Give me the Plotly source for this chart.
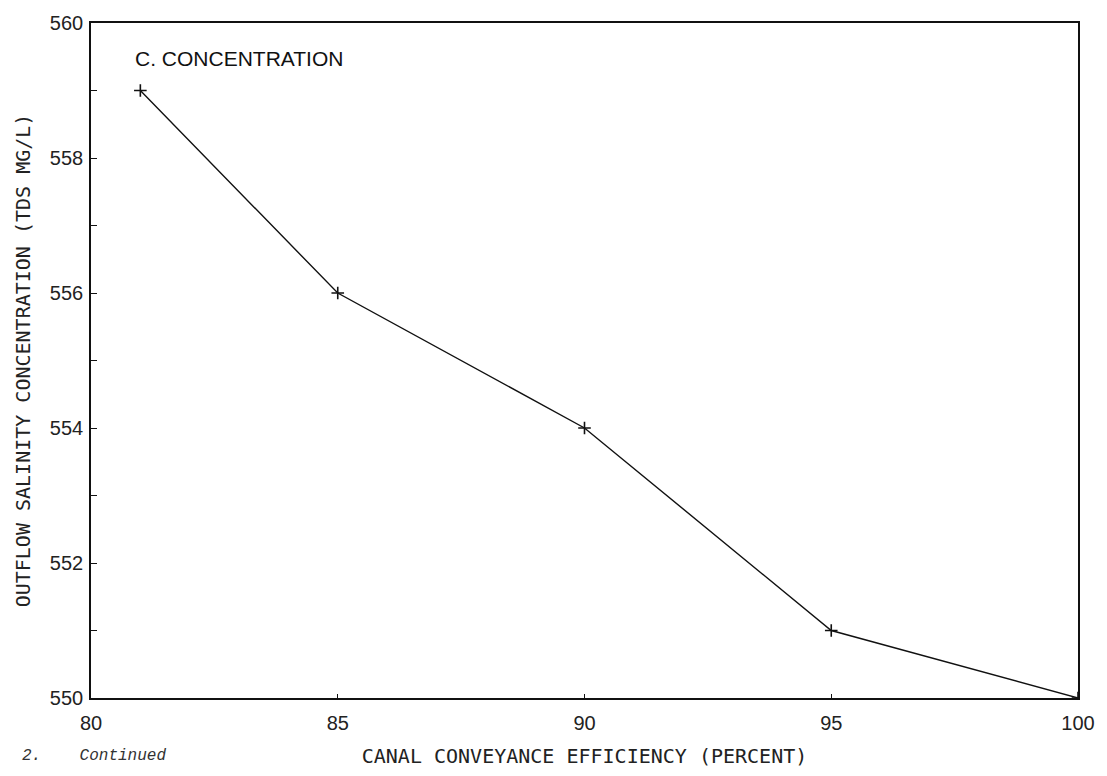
import plotly.graph_objects as go

efficiency = [81, 85, 90, 95, 100]
salinity = [559, 556, 554, 551, 550]
x_ticks = [80, 85, 90, 95, 100]
y_ticks = [550, 552, 554, 556, 558, 560]

fig = go.Figure()
fig.add_trace(go.Scatter(
    x=efficiency, y=salinity, mode="lines+markers",
    line=dict(color="#111111", width=1.4),
    marker=dict(symbol="cross-thin", size=9, line=dict(color="#111111", width=1.6)),
    showlegend=False,
))

axis_common = dict(
    showgrid=False, zeroline=False, showline=True, linecolor="#111111",
    linewidth=1.6, mirror=True, ticks="inside", tickcolor="#111111",
    tickfont=dict(family="Liberation Sans, Arial", size=20, color="#222222"),
)

fig.update_xaxes(
    range=[80, 100], tickvals=x_ticks, ticklen=4, tickwidth=1.4,
    ticklabelstandoff=6,
    title=dict(text="CANAL CONVEYANCE EFFICIENCY (PERCENT)",
               font=dict(family="DejaVu Sans Mono", size=20, color="#222222"),
               standoff=16),
    **axis_common,
)
fig.update_yaxes(
    range=[550, 560], tickvals=y_ticks, ticklen=6, tickwidth=1.4,
    ticklabelstandoff=2,
    minor=dict(tickvals=[551, 553, 555, 557, 559], ticklen=6, tickwidth=1.4,
               ticks="inside", tickcolor="#111111"),
    title=dict(text="OUTFLOW SALINITY CONCENTRATION (TDS MG/L)",
               font=dict(family="DejaVu Sans Mono", size=20, color="#222222"),
               standoff=14),
    **axis_common,
)

fig.add_annotation(
    text="C. CONCENTRATION", xref="paper", yref="paper",
    x=0.043, y=0.948, xanchor="left", yanchor="middle", showarrow=False,
    font=dict(family="Liberation Sans, Arial", size=21, color="#111111"),
)
fig.add_annotation(
    text="<i>2.    Continued</i>", xref="paper", yref="paper",
    x=-0.072, y=-0.102, xanchor="left", yanchor="bottom", showarrow=False,
    font=dict(family="Liberation Mono", size=16, color="#333333"),
)

fig.update_layout(
    width=1107, height=776,
    margin=dict(l=91, r=28, t=20, b=76),
    paper_bgcolor="white", plot_bgcolor="white",
)

fig.write_html("out.html")
